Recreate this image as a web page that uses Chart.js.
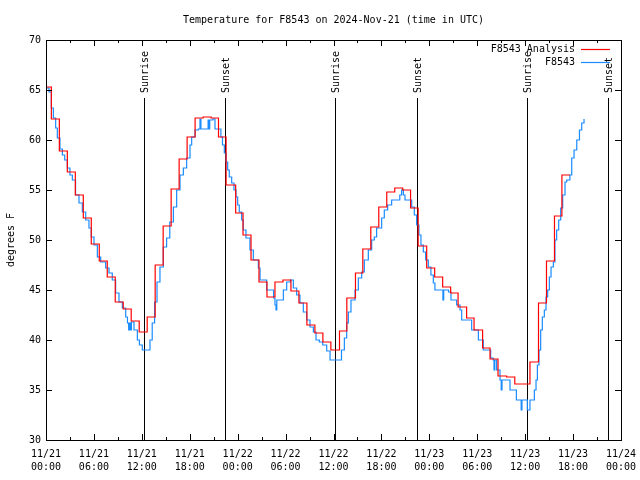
<!DOCTYPE html>
<html>
<head>
<meta charset="utf-8">
<script src="https://cdn.jsdelivr.net/npm/chart.js@4.4.1/dist/chart.umd.min.js"></script>
<style>
html,body{margin:0;padding:0;background:#fff;}
canvas{display:block;}
</style>
</head>
<body>
<canvas id="c" width="640" height="480"></canvas>
<script>
// ---- data (x = hours since 11/21 00:00 UTC) ----
const chartTitle = "Temperature for F8543 on 2024-Nov-21 (time in UTC)";
const yAxisTitle = "degrees F";
const analysisLabel = "F8543 Analysis";
const obsLabel = "F8543";

const xTickDates = ["11/21","11/21","11/21","11/21","11/22","11/22","11/22","11/22","11/23","11/23","11/23","11/23","11/24"];
const xTickTimes = ["00:00","06:00","12:00","18:00","00:00","06:00","12:00","18:00","00:00","06:00","12:00","18:00","00:00"];
const yTicks = [30,35,40,45,50,55,60,65,70];

const sunriseHours = [12.25, 36.22, 60.25];
const sunsetHours = [22.45, 46.47, 70.43];

const analysisTimes = [-0.33,0.67,1.67,2.67,3.67,4.67,5.67,6.67,7.67,8.67,9.67,10.67,11.67,12.67,13.67,14.67,15.67,16.67,17.67,18.67,19.67,20.67,21.6,22.55,23.75,24.67,25.67,26.67,27.67,28.67,29.67,30.67,31.67,32.67,33.67,34.67,35.67,36.75,37.67,38.75,39.67,40.67,41.67,42.67,43.67,44.67,45.65,46.6,47.67,48.67,49.67,50.67,51.6,52.67,53.6,54.67,55.6,56.6,57.67,58.7,59.67,60.6,61.67,62.67,63.67,64.6,65.6];
const analysisTemps = [65.3,62.1,58.9,56.8,54.5,52.2,49.6,47.9,46.3,43.8,43.1,41.9,40.8,42.3,47.5,51.4,55.1,58.1,60.3,62.2,62.3,62.2,60.3,55.5,52.7,50.5,48.0,45.8,44.3,45.8,46.0,44.9,43.7,41.5,40.7,39.8,39.0,40.9,44.2,46.7,49.1,51.3,53.3,54.8,55.2,55.0,53.2,49.4,47.2,46.3,45.3,44.7,43.3,42.2,41.0,39.2,38.1,36.4,36.3,35.6,35.6,37.8,43.7,47.9,52.4,56.5,56.5];

const obsTimes = [0.0,0.38,0.67,0.92,1.21,1.42,1.75,2.05,2.34,2.67,3.0,3.3,3.7,4.13,4.55,4.97,5.38,5.67,6.01,6.43,6.85,7.47,7.89,8.3,8.72,9.14,9.56,9.98,10.2,10.35,10.45,10.6,10.7,11.02,11.44,11.7,12.06,12.69,13.02,13.3,13.6,13.9,14.27,14.69,15.1,15.5,15.95,16.36,16.78,17.2,17.61,18.03,18.24,18.66,19.08,19.28,19.4,19.7,20.1,20.3,20.4,20.5,20.9,21.16,21.7,21.9,22.1,22.33,22.54,22.75,22.95,23.25,23.54,23.79,24.0,24.2,24.5,24.7,25.04,25.54,25.96,26.38,26.59,26.8,27.2,27.63,28.26,28.5,28.67,28.8,28.9,29.3,29.72,30.14,30.6,30.97,31.39,31.8,32.22,32.64,33.06,33.48,33.81,34.23,34.65,35.15,35.57,36.4,36.8,37.0,37.36,37.65,37.86,38.19,38.7,39.11,39.53,39.86,40.36,40.78,41.11,41.4,41.82,42.03,42.36,42.78,43.28,43.9,44.3,44.53,44.75,44.95,45.45,45.79,46.12,46.41,46.7,46.95,47.25,47.54,47.87,48.2,48.5,48.7,49.54,49.7,49.8,50.4,50.71,51.42,51.84,52.05,52.9,53.3,53.93,54.14,54.5,54.76,55.39,55.68,56.0,56.1,56.2,56.43,56.85,57.0,57.1,57.68,58.1,58.7,58.9,59.4,59.5,59.6,60.2,60.27,60.5,60.6,60.94,61.15,61.36,61.53,61.73,61.94,62.15,62.4,62.61,62.82,63.03,63.24,63.53,63.73,63.94,64.2,64.45,64.7,64.99,65.2,65.6,65.83,66.12,66.46,66.8,67.08,67.37];
const obsTemps = [65.2,64.8,63.2,62.2,61.2,60.2,59.1,58.5,58.0,57.2,56.5,56.0,54.5,53.7,52.8,52.0,51.2,50.3,49.5,48.3,47.8,47.2,46.7,46.0,44.7,43.8,43.2,42.3,41.7,41.0,41.7,41.0,41.8,41.0,40.0,39.5,39.0,39.0,40.0,41.7,43.8,45.8,47.3,49.3,50.2,51.8,53.3,55.0,56.5,57.2,58.2,59.5,60.3,61.0,61.1,62.1,61.1,61.1,61.1,62.0,61.1,62.0,62.1,61.1,61.1,60.3,59.5,58.7,57.8,57.0,56.3,55.7,55.0,54.3,53.5,52.8,52.0,51.0,50.2,49.0,48.0,48.0,47.2,46.0,46.0,45.0,45.0,44.2,43.5,43.0,44.0,44.0,45.0,45.8,46.0,45.2,44.5,43.7,42.8,42.0,41.3,40.8,40.0,39.8,39.5,38.9,38.0,38.0,38.0,39.0,40.2,41.7,42.8,44.0,45.0,46.2,46.8,48.0,49.0,50.0,50.3,51.2,51.2,52.2,53.0,53.5,54.0,54.0,54.5,55.0,54.5,54.0,54.0,53.3,52.5,51.5,50.5,49.5,48.8,48.0,47.3,46.5,45.7,45.0,45.0,44.0,45.0,44.8,44.0,43.5,43.0,42.0,42.0,41.0,41.0,40.0,40.0,39.0,39.0,38.2,38.0,37.0,38.0,37.0,36.0,35.0,36.0,36.0,35.0,35.0,34.0,34.0,33.0,34.0,34.0,33.0,33.0,34.0,34.0,35.0,36.0,37.5,39.0,41.0,42.3,43.0,44.3,45.0,46.3,47.3,47.8,50.0,51.0,52.0,53.2,54.5,55.8,56.0,56.5,58.2,59.0,60.0,61.0,61.7,62.1];

// ---- chart ----
const FONT = "'DejaVu Sans Mono', 'Liberation Mono', monospace";
Chart.defaults.font.family = FONT;
Chart.defaults.font.size = 10;
Chart.defaults.color = '#000';

const toPts = (xs, ys) => xs.map((x, i) => ({x: x, y: ys[i]}));

const decorPlugin = {
  id: 'decor',
  beforeDatasetsDraw(chart) {
    const ctx = chart.ctx, a = chart.chartArea, xs = chart.scales.x;
    ctx.save();
    ctx.strokeStyle = '#000';
    ctx.lineWidth = 1;
    ctx.fillStyle = '#000';
    ctx.font = "10px " + FONT;
    const drawEvent = (h, label) => {
      const px = Math.round(xs.getPixelForValue(h)) + 0.5;
      ctx.beginPath();
      ctx.moveTo(px, 98);
      ctx.lineTo(px, a.bottom);
      ctx.stroke();
      ctx.save();
      ctx.translate(px + 1, 93);
      ctx.rotate(-Math.PI / 2);
      ctx.textAlign = 'left';
      ctx.textBaseline = 'middle';
      ctx.fillText(label, 0, 0);
      ctx.restore();
    };
    sunriseHours.forEach(h => drawEvent(h, 'Sunrise'));
    sunsetHours.forEach(h => drawEvent(h, 'Sunset'));
    ctx.restore();
  },
  afterDraw(chart) {
    const ctx = chart.ctx, a = chart.chartArea, xs = chart.scales.x, ys = chart.scales.y;
    ctx.save();
    ctx.strokeStyle = '#000';
    ctx.lineWidth = 1;
    // border
    ctx.strokeRect(Math.round(a.left) + 0.5, Math.round(a.top) + 0.5, Math.round(a.right - a.left), Math.round(a.bottom - a.top));
    // inward ticks
    ctx.beginPath();
    xs.ticks.forEach(t => {
      const px = Math.round(xs.getPixelForValue(t.value)) + 0.5;
      const len = (t.value % 6 === 0) ? 6 : 3;
      ctx.moveTo(px, a.bottom); ctx.lineTo(px, a.bottom - len);
      ctx.moveTo(px, a.top); ctx.lineTo(px, a.top + len);
    });
    ys.ticks.forEach(t => {
      const py = Math.round(ys.getPixelForValue(t.value)) + 0.5;
      ctx.moveTo(a.left, py); ctx.lineTo(a.left + 6, py);
      ctx.moveTo(a.right, py); ctx.lineTo(a.right - 6, py);
    });
    ctx.stroke();
    // title
    ctx.fillStyle = '#000';
    ctx.font = "10px " + FONT;
    ctx.textAlign = 'center';
    ctx.textBaseline = 'middle';
    ctx.fillText(chartTitle, (a.left + a.right) / 2, 20);
    // y title
    ctx.save();
    ctx.translate(11, (a.top + a.bottom) / 2);
    ctx.rotate(-Math.PI / 2);
    ctx.fillText(yAxisTitle, 0, 0);
    ctx.restore();
    // legend
    ctx.textAlign = 'right';
    chart.data.datasets.forEach((ds, i) => {
      const y = 49 + i * 13;
      ctx.fillStyle = '#000';
      ctx.fillText(ds.label, 575, y);
      ctx.strokeStyle = ds.borderColor;
      ctx.lineWidth = 1.2;
      ctx.beginPath();
      ctx.moveTo(581, y + 0.5);
      ctx.lineTo(610, y + 0.5);
      ctx.stroke();
    });
    ctx.restore();
  }
};

new Chart(document.getElementById('c'), {
  type: 'line',
  data: {
    datasets: [
      {
        label: analysisLabel,
        data: toPts(analysisTimes, analysisTemps),
        borderColor: '#ff0000',
        borderWidth: 1.2,
        pointRadius: 0,
        stepped: 'before',
        fill: false
      },
      {
        label: obsLabel,
        data: toPts(obsTimes, obsTemps),
        borderColor: '#1a8cff',
        borderWidth: 1.2,
        pointRadius: 0,
        stepped: 'before',
        fill: false
      }
    ]
  },
  options: {
    responsive: false,
    animation: false,
    devicePixelRatio: 1,
    layout: { padding: { top: 40, right: 19, left: 0, bottom: 0 } },
    plugins: { legend: { display: false }, title: { display: false }, tooltip: { enabled: false } },
    scales: {
      x: {
        type: 'linear',
        min: 0,
        max: 72,
        grid: { display: false, drawTicks: false },
        border: { display: false },
        afterFit: s => { s.height = 40; s.paddingRight = 0; s.paddingLeft = 0; },
        afterBuildTicks: s => {
          const t = [];
          for (let i = 0; i < xTickDates.length * 2 - 1; i++) t.push({ value: i * 3 });
          s.ticks = t;
        },
        ticks: {
          autoSkip: false,
          maxRotation: 0,
          padding: 8,
          font: { size: 10, lineHeight: 1.3 },
          callback: v => {
            if (v % 6 !== 0) return '';
            const i = v / 6;
            return [xTickDates[i], xTickTimes[i]];
          }
        }
      },
      y: {
        min: 30,
        max: 70,
        grid: { display: false, drawTicks: false },
        border: { display: false },
        afterFit: s => { s.width = 46; s.paddingTop = 0; s.paddingBottom = 0; },
        afterBuildTicks: s => { s.ticks = yTicks.map(v => ({ value: v })); },
        ticks: { padding: 5, font: { size: 10 } }
      }
    }
  },
  plugins: [decorPlugin]
});
</script>
</body>
</html>
